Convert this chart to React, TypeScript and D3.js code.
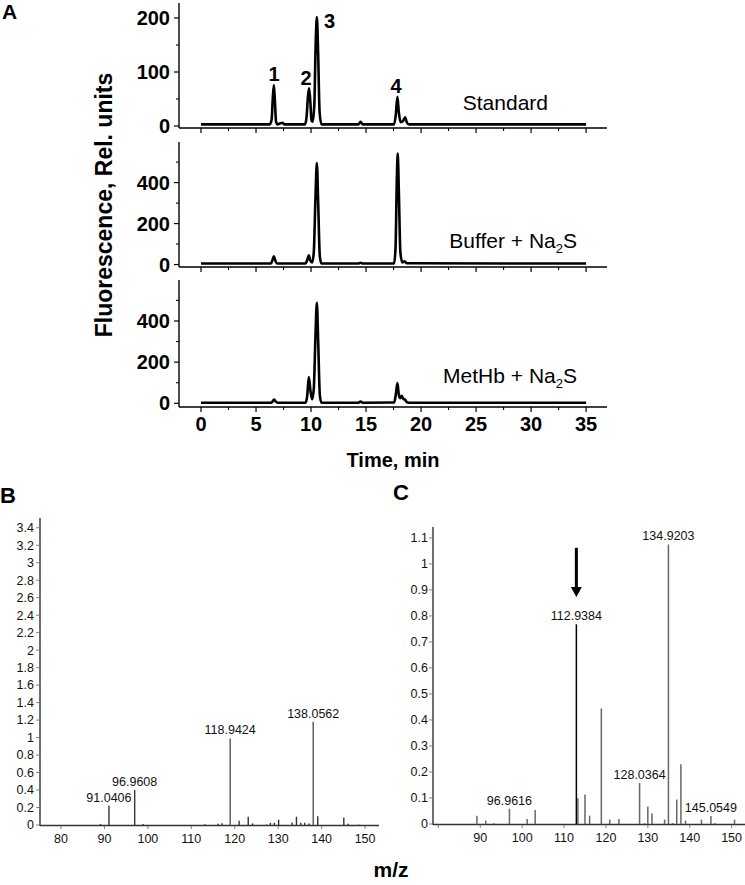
import React from 'react';
import * as d3 from 'd3';

// ---------- Panel A data (time in min, fluorescence in rel. units) ----------
const timeTicks = [0, 5, 10, 15, 20, 25, 30, 35];
const timeMinorTicks = [2.5, 7.5, 12.5, 17.5, 22.5, 27.5, 32.5];

const standardTrace: [number, number][] = [
  [0, 3], [6.25, 3], [6.42, 12], [6.52, 50], [6.62, 76], [6.72, 45], [6.82, 8], [6.95, 3],
  [7.2, 5], [7.4, 6], [7.6, 3], [9.45, 3], [9.6, 18], [9.72, 55], [9.82, 70], [9.92, 50],
  [10.05, 10], [10.15, 8], [10.3, 40], [10.42, 150], [10.53, 202], [10.64, 140], [10.78, 25],
  [10.95, 3], [14.3, 3], [14.5, 8], [14.7, 3], [17.55, 3], [17.7, 20], [17.85, 54], [17.98, 25],
  [18.15, 7], [18.35, 9], [18.55, 16], [18.7, 7], [18.9, 3], [35, 3],
];
const bufferTrace: [number, number][] = [
  [0, 5], [6.35, 5], [6.5, 22], [6.62, 40], [6.74, 22], [6.9, 5], [9.5, 5], [9.65, 22],
  [9.8, 45], [9.93, 20], [10.1, 10], [10.25, 60], [10.4, 320], [10.53, 495], [10.65, 300],
  [10.8, 40], [10.95, 5], [14.3, 5], [14.5, 9], [14.7, 5], [17.55, 5], [17.68, 80],
  [17.8, 420], [17.88, 542], [17.98, 360], [18.12, 60], [18.3, 10], [18.5, 16], [18.7, 6],
  [35, 5],
];
const methbTrace: [number, number][] = [
  [0, 3], [6.4, 3], [6.55, 12], [6.65, 18], [6.8, 8], [6.95, 3], [9.5, 3], [9.65, 35],
  [9.8, 127], [9.95, 60], [10.1, 20], [10.25, 70], [10.4, 320], [10.53, 488], [10.65, 300],
  [10.8, 40], [10.95, 3], [14.3, 3], [14.5, 8], [14.7, 3], [17.55, 4], [17.7, 40],
  [17.85, 98], [17.97, 45], [18.1, 25], [18.25, 36], [18.4, 20], [18.55, 18], [18.7, 6],
  [18.9, 3], [35, 3],
];
const traceNames = ['Standard', 'Buffer + Na', 'MetHb + Na'];
const peakNumbers = ['1', '2', '3', '4'];
const peakLabelTimes = [6.64, 9.55, 11.68, 17.73];
const peakLabelValues = [83, 76, 181, 61];

// ---------- Panel B data (m/z, intensity) ----------
const msB_mz = [89.1, 91.0406, 96.9608, 98.9, 113.1, 116.2, 117.1, 118.9424, 121.0, 123.1, 124.1,
  127.3, 128.2, 129.1, 130.1, 133.2, 134.2, 135.2, 136.1, 137.1, 138.0562, 139.1, 145.1, 146.1, 148.5];
const msB_int = [0.012, 0.22, 0.40, 0.012, 0.008, 0.015, 0.02, 0.99, 0.05, 0.095, 0.018,
  0.006, 0.025, 0.025, 0.06, 0.03, 0.095, 0.025, 0.025, 0.018, 1.18, 0.10, 0.085, 0.015, 0.004];
const msB_labels = ['91.0406', '96.9608', '118.9424', '138.0562'];
const msB_ticksY = [0, 0.2, 0.4, 0.6, 0.8, 1, 1.2, 1.4, 1.6, 1.8, 2, 2.2, 2.4, 2.6, 2.8, 3, 3.2, 3.4];
const msB_ticksX = [80, 90, 100, 110, 120, 130, 140, 150];

// ---------- Panel C data ----------
const msC_mz = [89.2, 91.3, 93.2, 96.9616, 101.2, 103.1, 112.9384, 113.3, 115.0, 116.1, 118.9,
  120.9, 123.1, 128.0364, 129.2, 130.0, 131.0, 134.0, 134.9203, 135.9, 136.9, 137.9, 139.0,
  142.8, 145.0549, 146.0, 150.7];
const msC_int = [0.032, 0.013, 0.003, 0.059, 0.019, 0.054, 0.768, 0.099, 0.113, 0.032, 0.444,
  0.017, 0.019, 0.158, 0.003, 0.067, 0.04, 0.017, 1.075, 0.004, 0.094, 0.23, 0.013,
  0.017, 0.031, 0.004, 0.017];
const msC_labels = ['96.9616', '112.9384', '128.0364', '134.9203', '145.0549'];
const msC_ticksY = [0, 0.1, 0.2, 0.3, 0.4, 0.5, 0.6, 0.7, 0.8, 0.9, 1, 1.1];
const msC_ticksX = [80, 90, 100, 110, 120, 130, 140, 150];
const msC_arrow = { mz: 112.9384, from: 1.062, to: 0.873 };

const FONT = '"Liberation Sans", Arial, Helvetica, sans-serif';

function fmt(v: number) {
  return String(+v.toFixed(2));
}

export default function App() {
  // Panel A scales
  const xA = d3.scaleLinear().domain([-2, 36.9]).range([179, 607]);
  const panels = [
    { data: standardTrace, y: d3.scaleLinear().domain([-3.7, 227.8]).range([128, 3]),
      major: [0, 100, 200], minor: [50, 150], name: traceNames[0], sub: false, nameEnd: 548, nameY: 110 },
    { data: bufferTrace, y: d3.scaleLinear().domain([-12, 598]).range([267, 142]),
      major: [0, 200, 400], minor: [100, 300, 500], name: traceNames[1], sub: true, nameEnd: 577, nameY: 248 },
    { data: methbTrace, y: d3.scaleLinear().domain([-18, 599]).range([407, 280]),
      major: [0, 200, 400], minor: [100, 300, 500], name: traceNames[2], sub: true, nameEnd: 577, nameY: 383 },
  ];

  // Panel B scales
  const xB = d3.scaleLinear().domain([75.17, 153.2]).range([40, 379]);
  const yB = d3.scaleLinear().domain([0, 3.5]).range([825, 519]);
  // Panel C scales
  const xC = d3.scaleLinear().domain([78.71, 153.2]).range([433, 745]);
  const yC = d3.scaleLinear().domain([0, 1.142]).range([824, 527]);

  const findLabel = (mz: number, labels: string[]) =>
    labels.find((l) => Math.abs(parseFloat(l) - mz) < 1e-6);

  return (
    <svg width={745} height={885} style={{ position: 'absolute', left: 0, top: 0, background: '#fff' }}
      fontFamily={FONT}>
      <rect x={0} y={0} width={745} height={885} fill="#fff" />
      {/* Panel A */}
      <text x={2} y={19} fontSize={21} fontWeight="bold">A</text>
      {panels.map((p, i) => {
        const line = d3.line<[number, number]>().x((d) => xA(d[0])).y((d) => p.y(d[1])).curve(d3.curveMonotoneX);
        const [y0] = p.y.range();
        const yTop = p.y.range()[1];
        const last = i === panels.length - 1;
        return (
          <g key={i}>
            <line x1={179} x2={179} y1={yTop} y2={y0} stroke="#000" strokeWidth={1.4} />
            <line x1={179} x2={607} y1={y0} y2={y0} stroke="#000" strokeWidth={1.4} />
            {p.major.map((t) => (
              <g key={'M' + t}>
                <line x1={174} x2={179} y1={p.y(t)} y2={p.y(t)} stroke="#000" strokeWidth={1.2} />
                <text x={170} y={p.y(t)} dy="0.36em" textAnchor="end" fontSize={20} fontWeight="bold">{t}</text>
              </g>
            ))}
            {p.minor.map((t) => (
              <line key={'m' + t} x1={176} x2={179} y1={p.y(t)} y2={p.y(t)} stroke="#000" strokeWidth={1.1} />
            ))}
            {timeTicks.map((t) => (
              <line key={'xt' + t} x1={xA(t)} x2={xA(t)} y1={y0} y2={y0 + 5} stroke="#000" strokeWidth={1.2} />
            ))}
            {timeMinorTicks.map((t) => (
              <line key={'xm' + t} x1={xA(t)} x2={xA(t)} y1={y0} y2={y0 + 3} stroke="#000" strokeWidth={1.1} />
            ))}
            {last && timeTicks.map((t) => (
              <text key={'xl' + t} x={xA(t)} y={y0 + 24} textAnchor="middle" fontSize={20} fontWeight="bold">{t}</text>
            ))}
            <path d={line(p.data) || ''} fill="none" stroke="#000" strokeWidth={2.6} strokeLinejoin="round" />
            <text x={p.nameEnd} y={p.nameY} textAnchor="end" fontSize={21}>
              {p.name}
              {p.sub && <tspan fontSize={13} dy={5}>2</tspan>}
              {p.sub && <tspan dy={-5}>S</tspan>}
            </text>
          </g>
        );
      })}
      {peakNumbers.map((n, i) => (
        <text key={'pk' + n} x={xA(peakLabelTimes[i])} y={panels[0].y(peakLabelValues[i])} textAnchor="middle"
          fontSize={20} fontWeight="bold">{n}</text>
      ))}
      <text x={393} y={467} textAnchor="middle" fontSize={20} fontWeight="bold">Time, min</text>
      <text transform="translate(112,205) rotate(-90)" textAnchor="middle" fontSize={23} fontWeight="bold">
        Fluorescence, Rel. units
      </text>

      {/* Panel B */}
      <text x={0} y={503} fontSize={22} fontWeight="bold">B</text>
      <line x1={40} x2={40} y1={518} y2={826} stroke="#333" strokeWidth={1.4} />
      <line x1={40} x2={379} y1={825.5} y2={825.5} stroke="#333" strokeWidth={1.4} />
      {msB_ticksY.map((t) => (
        <g key={'by' + t}>
          <line x1={36} x2={40} y1={yB(t)} y2={yB(t)} stroke="#666" strokeWidth={0.8} />
          <text x={34} y={yB(t)} dy="0.35em" textAnchor="end" fontSize={12.5} fill="#111">{fmt(t)}</text>
        </g>
      ))}
      {msB_ticksX.map((t) => (
        <g key={'bx' + t}>
          <line x1={xB(t)} x2={xB(t)} y1={826} y2={829} stroke="#666" strokeWidth={0.8} />
          <text x={xB(t)} y={843} textAnchor="middle" fontSize={12.5} fill="#111">{t}</text>
        </g>
      ))}
      {msB_mz.map((m, i) => (
        <line key={'bb' + i} x1={xB(m)} x2={xB(m)} y1={yB(0)} y2={yB(msB_int[i])}
          stroke={msB_int[i] > 0.5 ? '#555' : '#333'} strokeWidth={1.4} />
      ))}
      {msB_mz.map((m, i) => {
        const l = findLabel(m, msB_labels);
        return l ? (
          <text key={'bl' + i} x={xB(m)} y={yB(msB_int[i]) - 4} textAnchor="middle" fontSize={12.5} fill="#111">{l}</text>
        ) : null;
      })}

      {/* Panel C */}
      <text x={393} y={500} fontSize={22} fontWeight="bold">C</text>
      <line x1={433} x2={433} y1={527} y2={825} stroke="#333" strokeWidth={1.4} />
      <line x1={433} x2={745} y1={824.5} y2={824.5} stroke="#333" strokeWidth={1.4} />
      {msC_ticksY.map((t) => (
        <g key={'cy' + t}>
          <line x1={429} x2={433} y1={yC(t)} y2={yC(t)} stroke="#666" strokeWidth={0.8} />
          <text x={428} y={yC(t)} dy="0.35em" textAnchor="end" fontSize={12.5} fill="#111">{fmt(t)}</text>
        </g>
      ))}
      {msC_ticksX.map((t) => (
        <g key={'cx' + t}>
          <line x1={xC(t)} x2={xC(t)} y1={825} y2={828} stroke="#666" strokeWidth={0.8} />
          {t >= 90 && <text x={xC(t)} y={842} textAnchor="middle" fontSize={12.5} fill="#111">{t}</text>}
        </g>
      ))}
      {msC_mz.map((m, i) => (
        <line key={'cb' + i} x1={xC(m)} x2={xC(m)} y1={yC(0)} y2={yC(msC_int[i])}
          stroke={Math.abs(m - msC_arrow.mz) < 1e-6 ? '#000' : '#666'} strokeWidth={1.5} />
      ))}
      {msC_mz.map((m, i) => {
        const l = findLabel(m, msC_labels);
        return l ? (
          <text key={'cl' + i} x={xC(m)} y={yC(msC_int[i]) - 4} textAnchor="middle" fontSize={12.5} fill="#111">{l}</text>
        ) : null;
      })}
      <line x1={xC(msC_arrow.mz)} x2={xC(msC_arrow.mz)} y1={yC(msC_arrow.from)} y2={yC(msC_arrow.to) - 8}
        stroke="#000" strokeWidth={3} />
      <path d={`M${xC(msC_arrow.mz) - 5.5},${yC(msC_arrow.to) - 10} L${xC(msC_arrow.mz) + 5.5},${yC(msC_arrow.to) - 10} L${xC(msC_arrow.mz)},${yC(msC_arrow.to)} Z`}
        fill="#000" />

      <text x={391} y={877} textAnchor="middle" fontSize={21} fontWeight="bold">m/z</text>
    </svg>
  );
}
